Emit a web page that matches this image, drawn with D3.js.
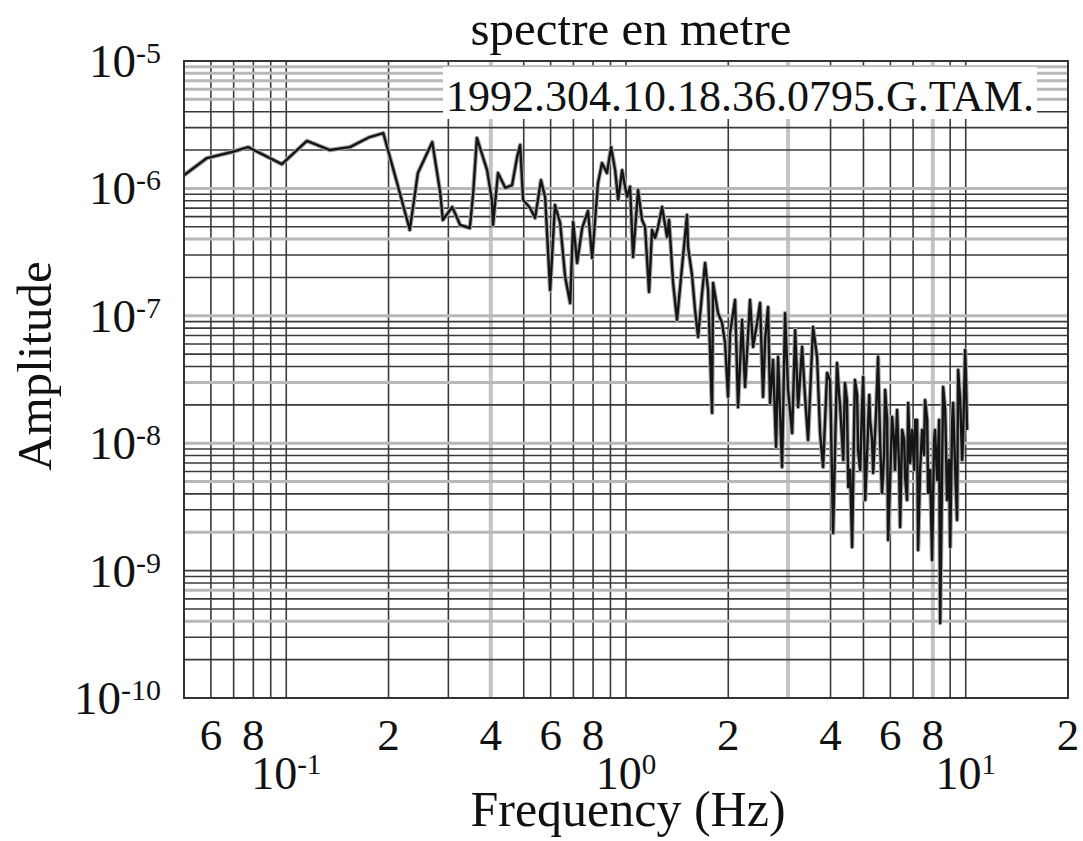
<!DOCTYPE html>
<html>
<head>
<meta charset="utf-8">
<script src="https://cdn.jsdelivr.net/npm/d3@7"></script>
<style>
  body { margin: 0; background: #fff; }
  svg { display: block; }
  text { font-family: "Liberation Serif", "Times New Roman", serif; fill: #111; }
</style>
</head>
<body>
<svg width="1083" height="841"></svg>
<script>
// spectrum values (frequency in Hz, amplitude in m)
const freq = [
  0.050, 0.0584, 0.0692, 0.0772, 0.0971, 0.115, 0.1345, 0.154, 0.176, 0.193,
  0.212, 0.231, 0.244, 0.269, 0.284, 0.289, 0.308, 0.325, 0.347, 0.355,
  0.364, 0.390, 0.403, 0.406, 0.420, 0.441, 0.462, 0.478, 0.488, 0.498,
  0.522, 0.540, 0.562, 0.578, 0.598, 0.618, 0.640, 0.662, 0.685, 0.699,
  0.718, 0.743, 0.773, 0.795, 0.827, 0.850, 0.879, 0.904, 0.929, 0.948,
  0.974, 1.007, 1.028, 1.049, 1.085, 1.115, 1.138, 1.169, 1.193, 1.218,
  1.243, 1.277, 1.321, 1.339, 1.376, 1.413, 1.462, 1.512, 1.523, 1.564,
  1.597, 1.630, 1.675, 1.709, 1.744, 1.792, 1.804, 1.866, 1.918, 1.957,
  1.997, 2.025, 2.094, 2.137, 2.196, 2.241, 2.318, 2.366, 2.431, 2.481,
  2.532, 2.567, 2.619, 2.655, 2.709, 2.765, 2.803, 2.880, 2.939, 3.000,
  3.083, 3.147, 3.211, 3.299, 3.365, 3.435, 3.553, 3.651, 3.726, 3.803,
  3.907, 3.987, 4.01, 4.07, 4.13, 4.18, 4.24, 4.27, 4.36, 4.41,
  4.47, 4.51, 4.57, 4.63, 4.69, 4.72, 4.79, 4.82, 4.89, 4.95,
  4.99, 5.06, 5.13, 5.20, 5.23, 5.30, 5.34, 5.45, 5.52, 5.60,
  5.67, 5.75, 5.79, 5.87, 5.91, 5.99, 6.07, 6.15, 6.19, 6.28,
  6.37, 6.41, 6.50, 6.59, 6.63, 6.72, 6.77, 6.86, 6.95, 7.05,
  7.10, 7.19, 7.24, 7.34, 7.44, 7.54, 7.59, 7.70, 7.75, 7.86,
  7.96, 8.07, 8.12, 8.24, 8.35, 8.41, 8.52, 8.58, 8.70, 8.81,
  8.93, 9.00, 9.12, 9.18, 9.31, 9.43, 9.50, 9.63, 9.76, 9.82,
  9.96, 10.02, 10.09
];
const amp = [
  1.27e-6, 1.73e-6, 1.93e-6, 2.11e-6, 1.55e-6, 2.36e-6, 2.00e-6, 2.11e-6, 2.53e-6, 2.72e-6,
  1.10e-6, 4.72e-7, 1.32e-6, 2.31e-6, 9.20e-7, 5.65e-7, 7.15e-7, 5.16e-7, 4.89e-7, 9.20e-7,
  2.49e-6, 1.39e-6, 8.11e-7, 5.16e-7, 1.32e-6, 1.01e-6, 1.06e-6, 1.76e-6, 2.19e-6, 8.11e-7,
  7.02e-7, 5.86e-7, 1.16e-6, 8.56e-7, 1.59e-7, 7.41e-7, 5.35e-7, 2.02e-7, 1.26e-7, 5.45e-7,
  2.60e-7, 4.89e-7, 6.65e-7, 2.84e-7, 1.10e-6, 1.58e-6, 1.32e-6, 2.11e-6, 1.39e-6, 8.11e-7,
  1.39e-6, 8.56e-7, 1.03e-6, 2.89e-7, 9.71e-7, 5.65e-7, 4.98e-7, 1.54e-7, 4.72e-7, 4.08e-7,
  4.98e-7, 7.15e-7, 4.16e-7, 5.65e-7, 1.81e-7, 9.27e-8, 2.42e-7, 6.18e-7, 3.47e-7, 2.09e-7,
  1.11e-7, 6.82e-8, 1.51e-7, 2.60e-7, 1.59e-7, 1.73e-8, 1.81e-7, 1.05e-7, 8.78e-8, 6.12e-8,
  2.31e-8, 7.33e-8, 1.33e-7, 1.92e-8, 9.27e-8, 2.76e-8, 1.33e-7, 5.69e-8, 8.78e-8, 1.26e-7,
  2.31e-8, 6.46e-8, 1.17e-7, 2.07e-8, 4.50e-8, 9.34e-9, 4.75e-8, 6.50e-9, 1.05e-7, 2.62e-8,
  1.20e-8, 7.74e-8, 1.92e-8, 5.69e-8, 2.31e-8, 1.06e-8, 8.17e-8, 4.75e-8, 1.20e-8, 6.50e-9,
  3.56e-8, 3.13e-8, 1.52e-8, 1.97e-9, 1.06e-8, 4.26e-8, 2.39e-8, 1.92e-8, 7.38e-9, 2.97e-8,
  2.18e-8, 4.53e-9, 6.16e-9, 1.53e-9, 1.27e-8, 3.13e-8, 2.39e-8, 8.84e-9, 6.16e-9, 1.82e-8,
  3.31e-8, 3.58e-9, 8.84e-9, 2.39e-8, 1.52e-8, 1.06e-8, 5.84e-9, 1.82e-8, 4.75e-8, 9.68e-9,
  4.06e-9, 8.08e-9, 2.62e-8, 1.52e-8, 1.74e-9, 5.14e-9, 1.61e-8, 1.06e-8, 6.16e-9, 1.82e-8,
  6.16e-9, 2.20e-9, 1.27e-8, 1.06e-8, 5.43e-9, 3.58e-9, 2.07e-8, 6.99e-9, 1.27e-8, 6.16e-9,
  1.52e-8, 1.52e-8, 1.45e-9, 6.16e-9, 1.27e-8, 8.08e-9, 2.18e-8, 1.52e-8, 4.06e-9, 6.16e-9,
  1.21e-9, 1.06e-8, 1.27e-8, 5.14e-9, 1.52e-8, 3.88e-10, 6.16e-9, 2.76e-8, 1.82e-8, 3.58e-9,
  7.38e-9, 1.53e-9, 1.52e-8, 2.07e-8, 6.16e-9, 2.50e-9, 3.75e-8, 2.18e-8, 7.38e-9, 1.06e-8,
  5.39e-8, 3.13e-8, 1.27e-8
];

// tick labels
const xMinorLabels = [0.06, 0.08, 0.2, 0.4, 0.6, 0.8, 2, 4, 6, 8, 20];
const xMajorLabels = [0.1, 1, 10];
const yMajorLabels = [1e-5, 1e-6, 1e-7, 1e-8, 1e-9, 1e-10];

// grid lines that came out pale and wide on the original print
const xPaleLines = [0.4, 3, 8];
const yPaleLines = [9e-6, 8e-6, 7e-6, 6e-6, 5e-6, 1e-6, 4e-7, 1e-7, 3e-8, 1e-8, 5e-9, 2e-9, 7e-10, 4e-10];

const titleText = "spectre en metre";
const stationText = "1992.304.10.18.36.0795.G.TAM.";

const margin = { top: 61, right: 15, bottom: 143, left: 184 };
const width = 1083 - margin.left - margin.right;
const height = 841 - margin.top - margin.bottom;

const svg = d3.select("svg");
const g = svg.append("g").attr("transform", `translate(${margin.left},${margin.top})`);

const x = d3.scaleLog().domain([0.05, 20]).range([0, width]);
const y = d3.scaleLog().domain([1e-10, 1e-5]).range([height, 0]);

const isIn = (v, list) => list.some(p => Math.abs(v - p) / p < 1e-6);
const exponent = v => Math.round(Math.log10(v));
const lead = v => Math.round(v / Math.pow(10, Math.floor(Math.log10(v) + 1e-9)));

// grid: vertical
g.selectAll(".vgrid")
  .data(x.ticks())
  .enter()
  .append("line")
  .attr("x1", d => x(d)).attr("x2", d => x(d))
  .attr("y1", 0).attr("y2", height)
  .attr("stroke", d => isIn(d, xPaleLines) ? "#c4c4c4" : "#3a3a3a")
  .attr("stroke-width", d => isIn(d, xPaleLines) ? 4 : 1.6);

// grid: horizontal
g.selectAll(".hgrid")
  .data(y.ticks())
  .enter()
  .append("line")
  .attr("x1", 0).attr("x2", width)
  .attr("y1", d => y(d)).attr("y2", d => y(d))
  .attr("stroke", d => isIn(d, yPaleLines) ? "#b8b8b8" : "#3a3a3a")
  .attr("stroke-width", d => isIn(d, yPaleLines) ? 3 : 1.6);

// station label sits on a white patch over the grid
const stationG = g.append("g");
const stationLabel = stationG.append("text")
  .attr("x", width - 34)
  .attr("y", 50)
  .attr("text-anchor", "end")
  .style("font-size", "44px")
  .text(stationText);
const bb = stationLabel.node().getBBox();
stationG.insert("rect", "text")
  .attr("x", bb.x - 3)
  .attr("y", 6)
  .attr("width", bb.width + 6)
  .attr("height", 52)
  .attr("fill", "#fff");

// spectrum line (grey halo under a dark trace, like the scanned print)
const line = d3.line()
  .x((d, i) => x(freq[i]))
  .y(d => y(d));

g.append("path")
  .datum(amp)
  .attr("fill", "none")
  .attr("stroke", "#a8a8a8")
  .attr("stroke-width", 4.5)
  .attr("stroke-linejoin", "round")
  .attr("d", line);

g.append("path")
  .datum(amp)
  .attr("fill", "none")
  .attr("stroke", "#151515")
  .attr("stroke-width", 2.4)
  .attr("stroke-linejoin", "round")
  .attr("d", line);

// frame
g.append("rect")
  .attr("width", width)
  .attr("height", height)
  .attr("fill", "none")
  .attr("stroke", "#333")
  .attr("stroke-width", 2);

// y labels 10^n
yMajorLabels.forEach(v => {
  const t = svg.append("text")
    .attr("x", margin.left - 23)
    .attr("y", margin.top + y(v) + 16)
    .attr("text-anchor", "end")
    .style("font-size", "47px");
  t.append("tspan").text("10");
  t.append("tspan").attr("dy", -14).style("font-size", "30px").text(exponent(v));
});

// x minor digits
xMinorLabels.forEach(v => {
  svg.append("text")
    .attr("x", margin.left + x(v))
    .attr("y", margin.top + height + 52)
    .attr("text-anchor", "middle")
    .style("font-size", "45px")
    .text(lead(v));
});

// x decade labels
xMajorLabels.forEach(v => {
  const t = svg.append("text")
    .attr("x", margin.left + x(v))
    .attr("y", margin.top + height + 91)
    .attr("text-anchor", "middle")
    .style("font-size", "46px");
  t.append("tspan").text("10");
  t.append("tspan").attr("dy", -15).style("font-size", "29px").text(exponent(v));
});

// titles
svg.append("text")
  .attr("x", 631)
  .attr("y", 45)
  .attr("text-anchor", "middle")
  .style("font-size", "49px")
  .text(titleText);

svg.append("text")
  .attr("x", 628)
  .attr("y", 826)
  .attr("text-anchor", "middle")
  .style("font-size", "50px")
  .text("Frequency (Hz)");

svg.append("text")
  .attr("transform", `translate(51, 366) rotate(-90)`)
  .attr("text-anchor", "middle")
  .style("font-size", "49px")
  .text("Amplitude");
</script>
</body>
</html>
